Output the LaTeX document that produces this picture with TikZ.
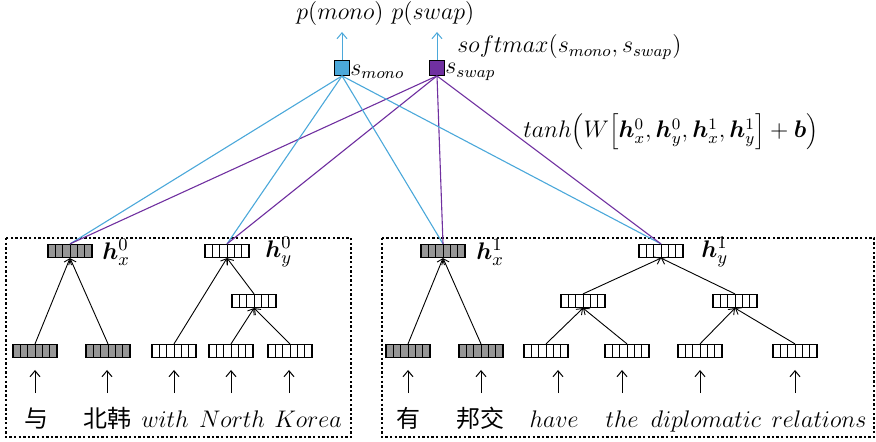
\documentclass[tikz,border=0pt]{standalone}
\usepackage{bm}
\usepackage{fontspec}
\newfontfamily\cjk{Noto Sans CJK SC}
\usetikzlibrary{arrows.meta,positioning,calc}

\definecolor{monoblue}{RGB}{75,168,218}
\definecolor{swappurple}{RGB}{112,48,160}
\definecolor{vecgray}{RGB}{150,150,150}

\begin{document}
\begin{tikzpicture}[
  x=0.5pt, y=-0.5pt,
  font=\fontsize{12}{14}\selectfont,
  cellvec/.style={draw, line width=0.6pt, minimum width=22pt, minimum height=6.5pt, inner sep=0pt,
                  path picture={\foreach \k in {1,...,5}{
                    \draw[line width=0.45pt] ([xshift=\k*22pt/6]path picture bounding box.south west)
                      -- ([xshift=\k*22pt/6]path picture bounding box.north west);}}},
  gvec/.style={cellvec, fill=vecgray},
  wvec/.style={cellvec, fill=white},
  sbox/.style={draw, line width=0.6pt, minimum size=7.3pt, inner sep=0pt},
  word/.style={anchor=base, inner sep=0pt},
  hlab/.style={anchor=west, inner sep=0pt, font=\fontsize{13}{15}\selectfont},
  up/.style={draw=black, line width=0.45pt, -{Straight Barb[length=2.6pt,width=4pt]}},
  inarrow/.style={draw=black, line width=0.5pt, -{Straight Barb[length=3pt,width=5pt]}},
  outarrow/.style={draw=monoblue, line width=0.5pt, -{Straight Barb[length=3pt,width=5pt]}},
  monoline/.style={draw=monoblue, line width=0.55pt},
  swapline/.style={draw=swappurple, line width=0.55pt},
  group/.style={draw, line width=1.2pt, dash pattern=on 1.2pt off 1.1pt}
]
\useasboundingbox (0,0) rectangle (876,442);

% dotted frames
\draw[group] (6,238) rectangle (351,437);
\draw[group] (382,238) rectangle (874,437);

% scoring units
\node[sbox, fill=monoblue] (smono) at (342,68) {};
\node[sbox, fill=swappurple] (sswap) at (437,68) {};
\node[anchor=west, inner sep=1pt] (smonol) at (348,72) {$s_{mono}$};
\node[anchor=west, inner sep=1pt] (sswapl) at (443,72) {$s_{swap}$};
\node[inner sep=1pt] (pmono) at (340,14) {$p(mono)$};
\node[inner sep=1pt] (pswap) at (433,14) {$p(swap)$};
\draw[outarrow] (smono.north) -- (smono.north |- 0,32);
\draw[outarrow] (sswap.north) -- (sswap.north |- 0,32);
\node[anchor=west, inner sep=1pt] (softmax) at (455,47) {$softmax\bigl(s_{mono}, s_{swap}\bigr)$};
\node[anchor=west, inner sep=1pt] (tanh) at (521,132)
  {$tanh\Bigl(W\Bigl[\bm{h}_x^0, \bm{h}_y^0, \bm{h}_x^1, \bm{h}_y^1\Bigr] + \bm{b}\Bigr)$};

% phrase vectors
\node[gvec] (hx0) at (70,251) {};
\node[wvec] (hy0) at (227,251) {};
\node[gvec] (hx1) at (443,251) {};
\node[wvec] (hy1) at (661,251) {};
\node[hlab] at (102,252) {$\bm{h}_x^0$};
\node[hlab] at (265,252) {$\bm{h}_y^0$};
\node[hlab] at (476,252) {$\bm{h}_x^1$};
\node[hlab] at (701,252) {$\bm{h}_y^1$};

% inner nodes
\node[wvec] (m0) at (254,301) {};
\node[wvec] (m1) at (583,301) {};
\node[wvec] (m2) at (735,301) {};

% word vectors
\node[gvec] (w1) at (35,351) {};
\node[gvec] (w2) at (108,351) {};
\node[wvec] (w3) at (174,351) {};
\node[wvec] (w4) at (231,351) {};
\node[wvec] (w5) at (290,351) {};
\node[gvec] (w6) at (408,351) {};
\node[gvec] (w7) at (481,351) {};
\node[wvec] (w8) at (546,351) {};
\node[wvec] (w9) at (627,351) {};
\node[wvec] (w10) at (700,351) {};
\node[wvec] (w11) at (795,351) {};

% words
\node[word] (t1) at (37,427) {\cjk 与};
\node[word] (t2) at (107,427) {\cjk 北韩};
\node[word] (t3) at (165,427) {$with$};
\node[word] (t4) at (232,427) {$North$};
\node[word] (t5) at (308,427) {$Korea$};
\node[word] (t6) at (408,427) {\cjk 有};
\node[word] (t7) at (480,427) {\cjk 邦交};
\node[word] (t8) at (554,427) {$have$};
\node[word] (t9) at (622,427) {$the$};
\node[word] (t10) at (706,427) {$diplomatic$};
\node[word] (t11) at (819,427) {$relations$};

% input arrows
\foreach \w/\xx in {w1/35, w2/107, w3/174, w4/231, w5/289, w6/408, w7/481, w8/558, w9/622, w10/700, w11/795}
  \draw[inarrow] (\xx,393) -- (\xx,370);

% tree edges
\draw[up] (w1.north) -- (hx0.south);
\draw[up] (w2.north) -- (hx0.south);
\draw[up] (w3.north) -- (hy0.south);
\draw[up] (m0.north) -- (hy0.south);
\draw[up] (w4.north) -- (m0.south);
\draw[up] (w5.north) -- (m0.south);
\draw[up] (w6.north) -- (hx1.south);
\draw[up] (w7.north) -- (hx1.south);
\draw[up] (m1.north) -- (hy1.south);
\draw[up] (m2.north) -- (hy1.south);
\draw[up] (w8.north) -- (m1.south);
\draw[up] (w9.north) -- (m1.south);
\draw[up] (w10.north) -- (m2.south);
\draw[up] (w11.north) -- (m2.south);

% scoring connections
\foreach \h in {hx0,hy0,hx1,hy1}{
  \draw[monoline] (smono.south) -- (\h.north);
  \draw[swapline] (sswap.south) -- (\h.north);
}
\end{tikzpicture}
\end{document}
